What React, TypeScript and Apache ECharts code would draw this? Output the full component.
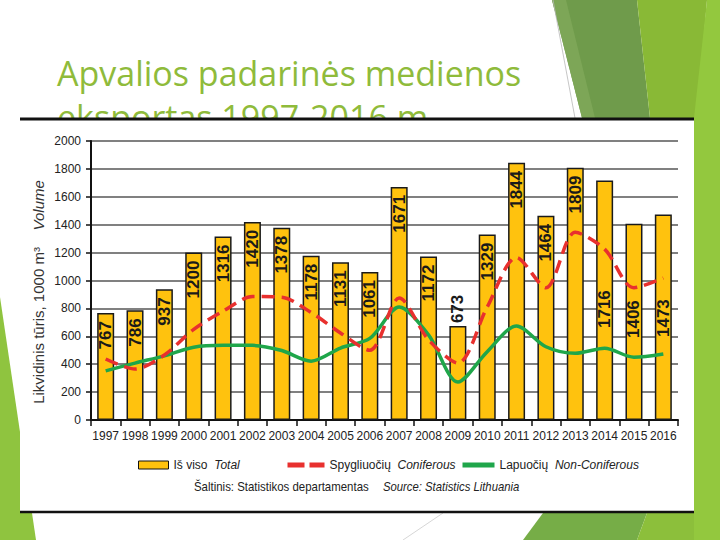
import React, { useEffect, useRef } from "react";
import * as echarts from "echarts";

// Round wood export, thousand cubic metres
const years = [
  "1997", "1998", "1999", "2000", "2001", "2002", "2003", "2004", "2005", "2006",
  "2007", "2008", "2009", "2010", "2011", "2012", "2013", "2014", "2015", "2016",
];
const totalValues = [
  767, 786, 937, 1200, 1316, 1420, 1378, 1178, 1131, 1061,
  1671, 1172, 673, 1329, 1844, 1464, 1809, 1716, 1406, 1473,
];
const coniferousValues = [
  437, 365, 466, 650, 780, 885, 880, 770, 624, 500,
  874, 575, 408, 810, 1165, 948, 1345, 1225, 948, 1018,
];
const nonConiferousValues = [
  352, 408, 460, 522, 535, 535, 498, 422, 516, 585,
  810, 610, 272, 490, 674, 525, 478, 514, 450, 473,
];
const yTicks = { min: 0, max: 2000, interval: 200 };

const SANS = "'Liberation Sans', Arial, sans-serif";

const SERIES_TOTAL = "Iš viso";
const SERIES_CON = "Spygliuočių";
const SERIES_NON = "Lapuočių";

const RED = "#e8302e";
const GREEN = "#1fa64a";

// Label placement overrides for a few bars
const labelOverrides: Record<string, any> = {
  "2009": { position: "top", align: "left", distance: 3 },
  "2014": { position: "insideBottom", align: "left", distance: 92 },
  "2015": { position: "insideBottom", align: "left", distance: 82 },
  "2016": { position: "insideBottom", align: "left", distance: 83 },
};

const legendText = (fontStyle: string) => ({
  fontFamily: SANS,
  fontSize: 12,
  color: "#222",
  fontStyle,
});

export default function App() {
  const ref = useRef<HTMLDivElement>(null);

  useEffect(() => {
    if (!ref.current) return;
    const chart = echarts.init(ref.current, undefined, { renderer: "svg" });

    const barData = totalValues.map((v, i) => {
      const o = labelOverrides[years[i]];
      return o ? { value: v, label: o } : v;
    });

    const legendRich = { a: legendText("normal"), b: legendText("italic") };

    const option: any = {
      animation: false,
      backgroundColor: "#ffffff",
      grid: {
        left: 91,
        right: 42,
        top: 141,
        bottom: 120,
        outerBoundsMode: "none",
      },
      xAxis: {
        type: "category",
        data: years,
        boundaryGap: true,
        axisLine: { lineStyle: { color: "#111", width: 2 } },
        axisTick: { show: true, length: 6, lineStyle: { color: "#111", width: 1.5 } },
        axisLabel: {
          fontFamily: SANS,
          fontSize: 12,
          color: "#222",
          margin: 10,
          interval: 0,
        },
      },
      yAxis: {
        type: "value",
        min: yTicks.min,
        max: yTicks.max,
        interval: yTicks.interval,
        axisLine: { show: true, lineStyle: { color: "#111", width: 2 } },
        axisTick: { show: true, length: 5, lineStyle: { color: "#111", width: 1.5 } },
        axisLabel: {
          fontFamily: SANS,
          fontSize: 12,
          color: "#222",
          margin: 10,
          formatter: (v: number) => String(v),
        },
        splitLine: { show: true, lineStyle: { color: "#808080", width: 2 } },
      },
      legend: [
        {
          data: [SERIES_TOTAL],
          left: 133,
          top: 454,
          icon: "rect",
          itemWidth: 30,
          itemHeight: 8,
          itemStyle: { borderColor: "#111", borderWidth: 1 },
          formatter: "{a|Iš viso}  {b|Total}",
          textStyle: { ...legendText("normal"), rich: legendRich },
        },
        {
          data: [SERIES_CON],
          left: 280,
          top: 454,
          itemWidth: 37,
          itemHeight: 14,
          itemStyle: { opacity: 0 },
          lineStyle: { color: RED, width: 5, type: [17, 5] },
          formatter: "{a|Spygliuočių}  {b|Coniferous}",
          textStyle: { ...legendText("normal"), rich: legendRich },
        },
        {
          data: [SERIES_NON],
          left: 455,
          top: 454,
          itemWidth: 32,
          itemHeight: 14,
          itemStyle: { opacity: 0 },
          lineStyle: { color: GREEN, width: 5 },
          formatter: "{a|Lapuočių}  {b|Non-Coniferous}",
          textStyle: { ...legendText("normal"), rich: legendRich },
        },
      ],
      series: [
        {
          name: SERIES_TOTAL,
          type: "bar",
          data: barData,
          barWidth: 17,
          itemStyle: { color: "#ffc20e", borderColor: "#1a1a1a", borderWidth: 1.5 },
          label: {
            show: true,
            position: "insideTop",
            rotate: 90,
            align: "right",
            verticalAlign: "middle",
            distance: 8,
            fontFamily: SANS,
            fontWeight: "bold",
            fontSize: 17,
            color: "#1a1a1a",
          },
          z: 2,
        },
        {
          name: SERIES_CON,
          type: "line",
          data: coniferousValues,
          smooth: 0.3,
          symbol: "none",
          lineStyle: { color: RED, width: 3.5, type: [13, 7] },
          itemStyle: { color: RED },
          z: 4,
        },
        {
          name: SERIES_NON,
          type: "line",
          data: nonConiferousValues,
          smooth: 0.3,
          symbol: "none",
          lineStyle: { color: GREEN, width: 3.5 },
          itemStyle: { color: GREEN },
          z: 3,
        },
      ],
      graphic: [
        // slide decoration behind the chart panel
        {
          type: "polygon",
          z: -20,
          shape: { points: [[0, 297], [36, 540], [0, 540]] },
          style: { fill: "#8fc43f" },
        },
        {
          type: "polygon",
          z: -20,
          shape: { points: [[552, 0], [637, 0], [650, 118], [582, 118]] },
          style: { fill: "#6f9b4b" },
        },
        {
          type: "polygon",
          z: -20,
          shape: { points: [[552, 0], [566, 0], [595, 118], [582, 118]] },
          style: { fill: "#7da657" },
        },
        {
          type: "polygon",
          z: -20,
          shape: { points: [[637, 0], [707, 0], [697, 118], [650, 118]] },
          style: { fill: "#89b936" },
        },
        {
          type: "polygon",
          z: -20,
          shape: { points: [[707, 0], [720, 0], [720, 540], [690, 540], [694, 118]] },
          style: { fill: "#93c83e" },
        },
        {
          type: "polygon",
          z: -20,
          shape: { points: [[543, 513], [647, 513], [637, 540], [523, 540]] },
          style: { fill: "#76ad47" },
        },
        {
          type: "polygon",
          z: -20,
          shape: { points: [[647, 513], [694, 513], [694, 540], [637, 540]] },
          style: { fill: "#8cbf3b" },
        },
        {
          type: "line",
          z: -20,
          shape: { x1: 553, y1: 0, x2: 575, y2: 118 },
          style: { stroke: "#b8b8b8", lineWidth: 0.8 },
        },
        {
          type: "line",
          z: -20,
          shape: { x1: 443, y1: 513, x2: 403, y2: 540 },
          style: { stroke: "#cccccc", lineWidth: 0.8 },
        },
        // slide title (second line runs under the chart panel)
        {
          type: "text",
          z: -20,
          x: 57,
          y: 56,
          style: {
            text: "Apvalios padarinės medienos",
            fontFamily: "'Open Sans', sans-serif",
            fontSize: 34,
            fill: "#8fbb3b",
            verticalAlign: "top",
          },
        },
        {
          type: "text",
          z: -20,
          x: 57,
          y: 100,
          style: {
            text: "eksportas 1997-2016 m.",
            fontFamily: "'Open Sans', sans-serif",
            fontSize: 34,
            fill: "#8fbb3b",
            verticalAlign: "top",
          },
        },
        // chart panel
        {
          type: "rect",
          z: -10,
          shape: { x: 20, y: 118, width: 674, height: 395 },
          style: { fill: "#ffffff" },
        },
        {
          type: "line",
          z: -10,
          shape: { x1: 20, y1: 119, x2: 694, y2: 119 },
          style: { stroke: "#111", lineWidth: 3 },
        },
        {
          type: "line",
          z: -10,
          shape: { x1: 20, y1: 512, x2: 694, y2: 512 },
          style: { stroke: "#111", lineWidth: 2.5 },
        },
        // y axis title
        {
          type: "text",
          z: 10,
          x: 38,
          y: 292,
          rotation: Math.PI / 2,
          style: {
            text: "{a|Likvidinis tūris, 1000 m³}     {b|Volume}",
            align: "center",
            verticalAlign: "middle",
            rich: {
              a: { fontFamily: SANS, fontSize: 15, fill: "#333" },
              b: { fontFamily: SANS, fontSize: 15, fill: "#333", fontStyle: "italic" },
            },
          },
        },
        // source note
        {
          type: "text",
          z: 10,
          x: 194,
          y: 487,
          scaleX: 0.88,
          style: {
            text: "Šaltinis: Statistikos departamentas",
            fontFamily: SANS,
            fontSize: 13,
            fill: "#222",
            verticalAlign: "middle",
          },
        },
        {
          type: "text",
          z: 10,
          x: 383,
          y: 487,
          scaleX: 0.87,
          style: {
            text: "Source: Statistics Lithuania",
            fontFamily: SANS,
            fontSize: 13,
            fontStyle: "italic",
            fill: "#222",
            verticalAlign: "middle",
          },
        },
      ],
    };

    chart.setOption(option);
    return () => chart.dispose();
  }, []);

  return (
    <div
      ref={ref}
      style={{ position: "fixed", left: 0, top: 0, width: 720, height: 540 }}
    />
  );
}
